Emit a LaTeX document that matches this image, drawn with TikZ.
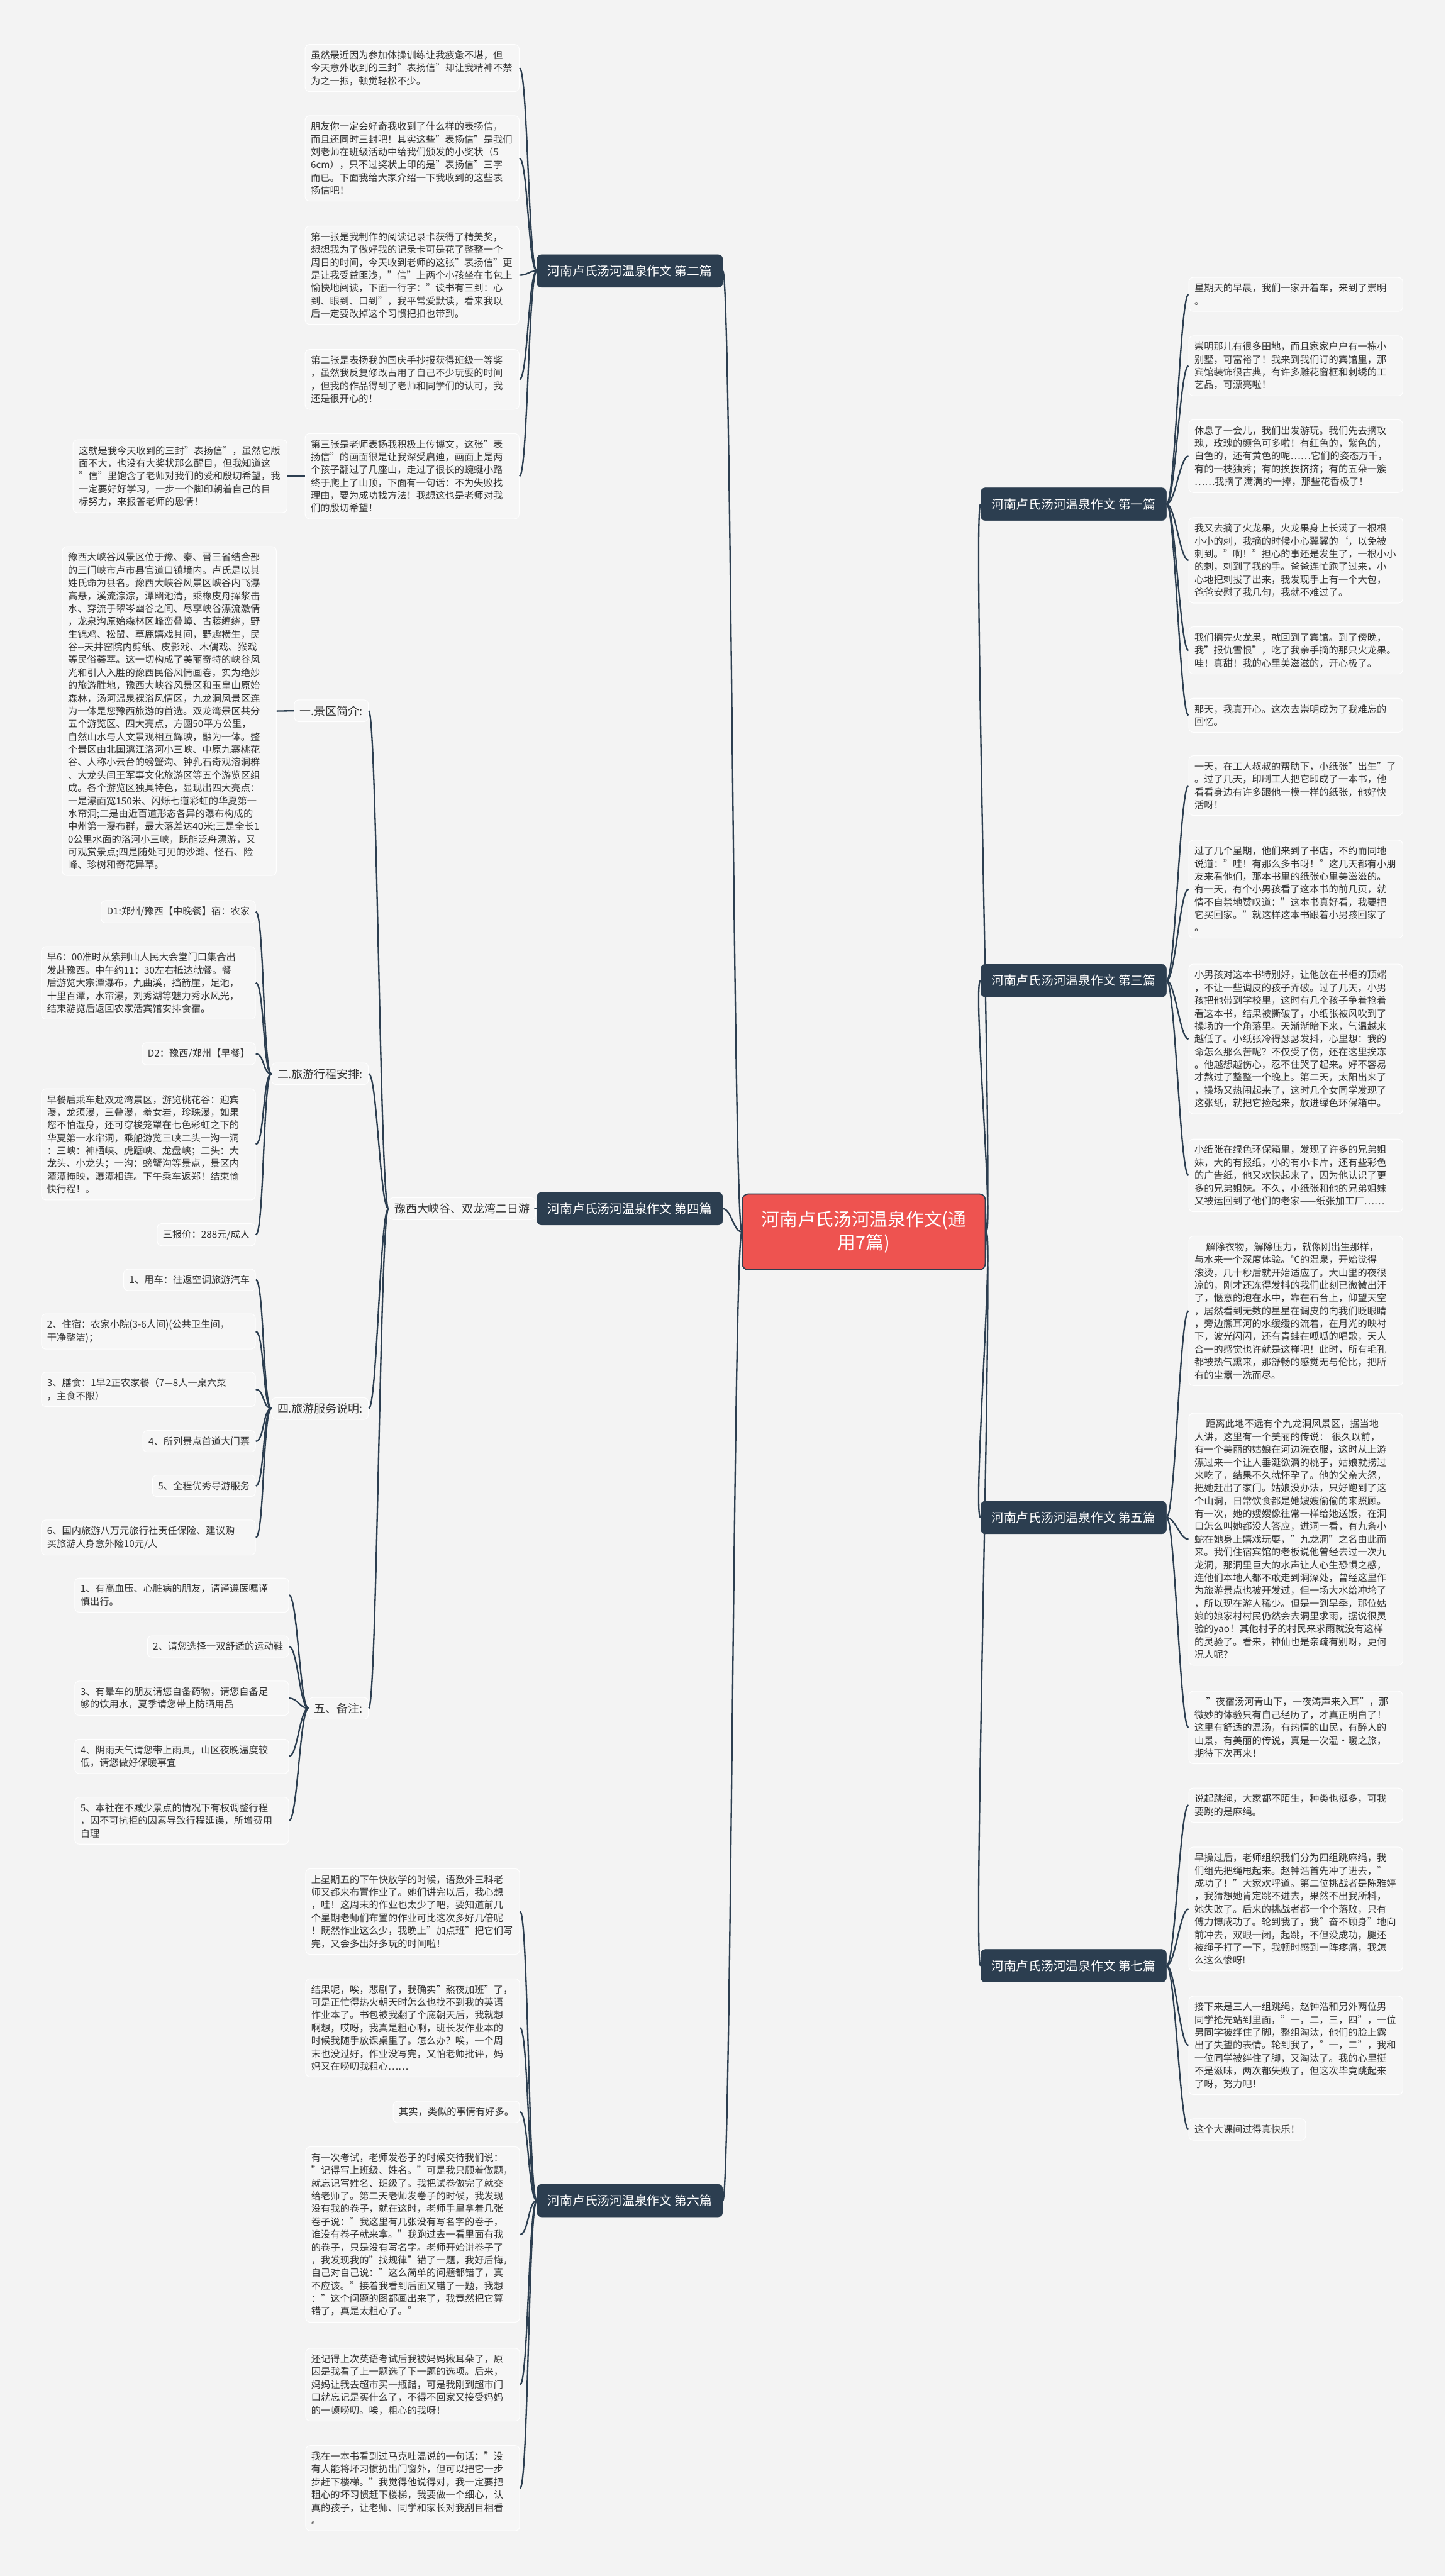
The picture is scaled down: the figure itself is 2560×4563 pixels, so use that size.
\documentclass[tikz,border=0pt]{standalone}
\usepackage{fontspec}
\setmainfont{Noto Sans CJK SC}
\definecolor{bgcol}{HTML}{F3F3F3}
\definecolor{leaffill}{HTML}{F6F6F6}
\definecolor{navy}{HTML}{2C3E50}
\definecolor{rootred}{HTML}{EE5350}
\definecolor{textcol}{HTML}{333333}
\newcommand\rconn[2]{\draw[link] (#1.east) .. controls +(15,0) and +(-15,0) .. (#2.west);}
\newcommand\lconn[2]{\draw[link] (#1.west) .. controls +(-15,0) and +(15,0) .. (#2.east);}
\tikzset{
  leaf/.style={draw=white, line width=1.2pt, fill=leaffill, rounded corners=8pt, inner xsep=10pt, inner ysep=11pt, font=\fontsize{17}{22.7}\selectfont, text=textcol, align=left},
  wleaf/.style={leaf, text width=359pt},
  midnode/.style={leaf, font=\fontsize{20}{24}\selectfont, inner ysep=10pt},
  branch/.style={fill=navy, draw=navy, rounded corners=8pt, text=white, font=\fontsize{22}{26}\selectfont, minimum width=329pt, minimum height=58pt, inner sep=0pt},
  root/.style={fill=rootred, draw=navy, line width=2pt, rounded corners=10pt, text=white, font=\fontsize{32}{42}\selectfont, align=center, minimum width=430pt, minimum height=134pt, inner sep=0pt},
  link/.style={draw=navy, line width=2.6pt}
}
\begin{document}
\begin{tikzpicture}[x=1pt,y=-1pt]
\fill[bgcol] (0,0) rectangle (2560,4563);
\useasboundingbox (0,0) rectangle (2560,4563);

% root and branches
\node[root] (c) at (1530,2182) {河南卢氏汤河温泉作文(通\\用7篇)};
\node[branch] (b1) at (1901.5,893) {河南卢氏汤河温泉作文 第一篇};
\node[branch] (b2) at (1115.5,480) {河南卢氏汤河温泉作文 第二篇};
\node[branch] (b3) at (1901.5,1737) {河南卢氏汤河温泉作文 第三篇};
\node[branch] (b4) at (1115.5,2141) {河南卢氏汤河温泉作文 第四篇};
\node[branch] (b5) at (1901.5,2688) {河南卢氏汤河温泉作文 第五篇};
\node[branch] (b6) at (1115.5,3898) {河南卢氏汤河温泉作文 第六篇};
\node[branch] (b7) at (1901.5,3482) {河南卢氏汤河温泉作文 第七篇};

% ---- section 1
\node[wleaf, anchor=west] (r11) at (2105,521.5) {星期天的早晨，我们一家开着车，来到了崇明\\。};
\node[wleaf, anchor=west] (r12) at (2105,648) {崇明那儿有很多田地，而且家家户户有一栋小\\别墅，可富裕了！我来到我们订的宾馆里，那\\宾馆装饰很古典，有许多雕花窗框和刺绣的工\\艺品，可漂亮啦！};
\node[wleaf, anchor=west] (r13) at (2105,808) {休息了一会儿，我们出发游玩。我们先去摘玫\\瑰，玫瑰的颜色可多啦！有红色的，紫色的，\\白色的，还有黄色的呢……它们的姿态万千，\\有的一枝独秀；有的挨挨挤挤；有的五朵一簇\\……我摘了满满的一捧，那些花香极了！};
\node[wleaf, anchor=west] (r14) at (2105,992.5) {我又去摘了火龙果，火龙果身上长满了一根根\\小小的刺，我摘的时候小心翼翼的`，以免被\\刺到。"啊！"担心的事还是发生了，一根小小\\的刺，刺到了我的手。爸爸连忙跑了过来，小\\心地把刺拔了出来，我发现手上有一个大包，\\爸爸安慰了我几句，我就不难过了。};
\node[wleaf, anchor=west] (r15) at (2105,1152) {我们摘完火龙果，就回到了宾馆。到了傍晚，\\我"报仇雪恨"，吃了我亲手摘的那只火龙果。\\哇！真甜！我的心里美滋滋的，开心极了。};
\node[wleaf, anchor=west] (r16) at (2105,1267) {那天，我真开心。这次去崇明成为了我难忘的\\回忆。};

% ---- section 3
\node[wleaf, anchor=west] (r31) at (2105,1391.5) {一天，在工人叔叔的帮助下，小纸张"出生"了\\。过了几天，印刷工人把它印成了一本书，他\\看看身边有许多跟他一模一样的纸张，他好快\\活呀！};
\node[wleaf, anchor=west] (r32) at (2105,1575) {过了几个星期，他们来到了书店，不约而同地\\说道："哇！有那么多书呀！"这几天都有小朋\\友来看他们，那本书里的纸张心里美滋滋的。\\有一天，有个小男孩看了这本书的前几页，就\\情不自禁地赞叹道："这本书真好看，我要把\\它买回家。"就这样这本书跟着小男孩回家了\\。};
\node[wleaf, anchor=west] (r33) at (2105,1840.5) {小男孩对这本书特别好，让他放在书柜的顶端\\，不让一些调皮的孩子弄破。过了几天，小男\\孩把他带到学校里，这时有几个孩子争着抢着\\看这本书，结果被撕破了，小纸张被风吹到了\\操场的一个角落里。天渐渐暗下来，气温越来\\越低了。小纸张冷得瑟瑟发抖，心里想：我的\\命怎么那么苦呢？不仅受了伤，还在这里挨冻\\。他越想越伤心，忍不住哭了起来。好不容易\\才熬过了整整一个晚上。第二天，太阳出来了\\，操场又热闹起来了，这时几个女同学发现了\\这张纸，就把它捡起来，放进绿色环保箱中。};
\node[wleaf, anchor=west] (r34) at (2105,2082) {小纸张在绿色环保箱里，发现了许多的兄弟姐\\妹，大的有报纸，小的有小卡片，还有些彩色\\的广告纸，他又欢快起来了，因为他认识了更\\多的兄弟姐妹。不久，小纸张和他的兄弟姐妹\\又被运回到了他们的老家——纸张加工厂……};

% ---- section 5
\node[wleaf, anchor=west] (r51) at (2105,2322) {\hspace*{1.2em}解除衣物，解除压力，就像刚出生那样，\\与水来一个深度体验。°C的温泉，开始觉得\\滚烫，几十秒后就开始适应了。大山里的夜很\\凉的，刚才还冻得发抖的我们此刻已微微出汗\\了，惬意的泡在水中，靠在石台上，仰望天空\\，居然看到无数的星星在调皮的向我们眨眼睛\\，旁边熊耳河的水缓缓的流着，在月光的映衬\\下，波光闪闪，还有青蛙在呱呱的唱歌，天人\\合一的感觉也许就是这样吧！此时，所有毛孔\\都被热气熏来，那舒畅的感觉无与伦比，把所\\有的尘嚣一洗而尽。};
\node[wleaf, anchor=west] (r52) at (2105,2726.5) {\hspace*{1.2em}距离此地不远有个九龙洞风景区，据当地\\人讲，这里有一个美丽的传说： 很久以前，\\有一个美丽的姑娘在河边洗衣服，这时从上游\\漂过来一个让人垂涎欲滴的桃子，姑娘就捞过\\来吃了，结果不久就怀孕了。他的父亲大怒，\\把她赶出了家门。姑娘没办法，只好跑到了这\\个山洞，日常饮食都是她嫂嫂偷偷的来照顾。\\有一次，她的嫂嫂像往常一样给她送饭，在洞\\口怎么叫她都没人答应，进洞一看，有九条小\\蛇在她身上嬉戏玩耍，"九龙洞"之名由此而\\来。我们住宿宾馆的老板说他曾经去过一次九\\龙洞，那洞里巨大的水声让人心生恐惧之感，\\连他们本地人都不敢走到洞深处，曾经这里作\\为旅游景点也被开发过，但一场大水给冲垮了\\，所以现在游人稀少。但是一到旱季，那位姑\\娘的娘家村村民仍然会去洞里求雨，据说很灵\\验的yao！其他村子的村民来求雨就没有这样\\的灵验了。看来，神仙也是亲疏有别呀，更何\\况人呢？};
\node[wleaf, anchor=west] (r53) at (2105,3060) {\hspace*{1.2em}"夜宿汤河青山下，一夜涛声来入耳"，那\\微妙的体验只有自己经历了，才真正明白了！\\这里有舒适的温汤，有热情的山民，有醉人的\\山景，有美丽的传说，真是一次温•暖之旅，\\期待下次再来！};

% ---- section 7
\node[wleaf, anchor=west] (r71) at (2105,3197.5) {说起跳绳，大家都不陌生，种类也挺多，可我\\要跳的是麻绳。};
\node[wleaf, anchor=west] (r72) at (2105,3381.5) {早操过后，老师组织我们分为四组跳麻绳，我\\们组先把绳甩起来。赵钟浩首先冲了进去，"\\成功了！"大家欢呼道。第二位挑战者是陈雅婷\\，我猜想她肯定跳不进去，果然不出我所料，\\她失败了。后来的挑战者都一个个落败，只有\\傅力博成功了。轮到我了，我"奋不顾身"地向\\前冲去，双眼一闭，起跳，不但没成功，腿还\\被绳子打了一下，我顿时感到一阵疼痛，我怎\\么这么惨呀!};
\node[wleaf, anchor=west] (r73) at (2105,3623) {接下来是三人一组跳绳，赵钟浩和另外两位男\\同学抢先站到里面，"一，二，三，四"，一位\\男同学被绊住了脚，整组淘汰，他们的脸上露\\出了失望的表情。轮到我了，"一，二"，我和\\一位同学被绊住了脚，又淘汰了。我的心里挺\\不是滋味，两次都失败了，但这次毕竟跳起来\\了呀，努力吧！};
\node[leaf, anchor=west] (r74) at (2105,3772) {这个大课间过得真快乐！};

% ---- section 2
\node[wleaf, anchor=east] (l21) at (920,120.5) {虽然最近因为参加体操训练让我疲惫不堪，但\\今天意外收到的三封"表扬信"却让我精神不禁\\为之一振，顿觉轻松不少。};
\node[wleaf, anchor=east] (l22) at (920,280.5) {朋友你一定会好奇我收到了什么样的表扬信，\\而且还同时三封吧！其实这些"表扬信"是我们\\刘老师在班级活动中给我们颁发的小奖状（5\\*6cm），只不过奖状上印的是"表扬信"三字\\而已。下面我给大家介绍一下我收到的这些表\\扬信吧！};
\node[wleaf, anchor=east] (l23) at (920,487.5) {第一张是我制作的阅读记录卡获得了精美奖，\\想想我为了做好我的记录卡可是花了整整一个\\周日的时间，今天收到老师的这张"表扬信"更\\是让我受益匪浅，"信"上两个小孩坐在书包上\\愉快地阅读，下面一行字："读书有三到：心\\到、眼到、口到"，我平常爱默读，看来我以\\后一定要改掉这个习惯把扣也带到。};
\node[wleaf, anchor=east] (l24) at (920,672) {第二张是表扬我的国庆手抄报获得班级一等奖\\，虽然我反复修改占用了自己不少玩耍的时间\\，但我的作品得到了老师和同学们的认可，我\\还是很开心的！};
\node[wleaf, anchor=east] (l25) at (920,843.5) {第三张是老师表扬我积极上传博文，这张"表\\扬信"的画面很是让我深受启迪，画面上是两\\个孩子翻过了几座山，走过了很长的蜿蜒小路\\终于爬上了山顶，下面有一句话：不为失败找\\理由，要为成功找方法！我想这也是老师对我\\们的殷切希望！};
\node[wleaf, anchor=east] (l26) at (509,843.5) {这就是我今天收到的三封"表扬信"，虽然它版\\面不大，也没有大奖状那么醒目，但我知道这\\"信"里饱含了老师对我们的爱和殷切希望，我\\一定要好好学习，一步一个脚印朝着自己的目\\标努力，来报答老师的恩情！};

% ---- section 4
\node[midnode, anchor=west] (s4) at (688,2141) {豫西大峡谷、双龙湾二日游};
\node[midnode, anchor=east] (s41) at (653,1259) {一.景区简介:};
\node[midnode, anchor=east] (s42) at (653,1902) {二.旅游行程安排:};
\node[midnode, anchor=east] (s44) at (653,2495) {四.旅游服务说明:};
\node[midnode, anchor=east] (s45) at (653,3026) {五、备注:};

\node[wleaf, anchor=east] (t1) at (490,1259.5) {豫西大峡谷风景区位于豫、秦、晋三省结合部\\的三门峡市卢市县官道口镇境内。卢氏是以其\\姓氏命为县名。豫西大峡谷风景区峡谷内飞瀑\\高悬，溪流淙淙，潭幽池清，乘橡皮舟挥浆击\\水、穿流于翠岑幽谷之间、尽享峡谷漂流激情\\，龙泉沟原始森林区峰峦叠嶂、古藤缠绕，野\\生锦鸡、松鼠、草鹿嬉戏其间，野趣横生，民\\谷-{}-天井窑院内剪纸、皮影戏、木偶戏、猴戏\\等民俗荟萃。这一切构成了美丽奇特的峡谷风\\光和引人入胜的豫西民俗风情画卷，实为绝妙\\的旅游胜地，豫西大峡谷风景区和玉皇山原始\\森林，汤河温泉裸浴风情区，九龙洞风景区连\\为一体是您豫西旅游的首选。双龙湾景区共分\\五个游览区、四大亮点，方圆50平方公里，\\自然山水与人文景观相互辉映，融为一体。整\\个景区由北国漓江洛河小三峡、中原九寨桃花\\谷、人称小云台的螃蟹沟、钟乳石奇观溶洞群\\、大龙头闫王军事文化旅游区等五个游览区组\\成。各个游览区独具特色，显现出四大亮点：\\一是瀑面宽150米、闪烁七道彩虹的华夏第一\\水帘洞;二是由近百道形态各异的瀑布构成的\\中州第一瀑布群，最大落差达40米;三是全长1\\0公里水面的洛河小三峡，既能泛舟漂游，又\\可观赏景点;四是随处可见的沙滩、怪石、险\\峰、珍树和奇花异草。};

\node[leaf, anchor=east] (t21) at (453,1615) {D1:郑州/豫西【中晚餐】宿：农家};
\node[wleaf, anchor=east] (t22) at (453,1741) {早6：00准时从紫荆山人民大会堂门口集合出\\发赴豫西。中午约11：30左右抵达就餐。餐\\后游览大宗潭瀑布，九曲溪，挡箭崖，足池，\\十里百潭，水帘瀑，刘秀湖等魅力秀水风光，\\结束游览后返回农家活宾馆安排食宿。};
\node[leaf, anchor=east] (t23) at (453,1866.5) {D2：豫西/郑州【早餐】};
\node[wleaf, anchor=east] (t24) at (453,2027) {早餐后乘车赴双龙湾景区，游览桃花谷：迎宾\\瀑，龙须瀑，三叠瀑，羞女岩，珍珠瀑，如果\\您不怕湿身，还可穿梭笼罩在七色彩虹之下的\\华夏第一水帘洞，乘船游览三峡二头一沟一洞\\：三峡：神栖峡、虎踞峡、龙盘峡；二头：大\\龙头、小龙头；一沟：螃蟹沟等景点，景区内\\潭潭掩映，瀑潭相连。下午乘车返郑！结束愉\\快行程！。};
\node[leaf, anchor=east] (t25) at (453,2187) {三报价：288元/成人};

\node[leaf, anchor=east] (t41) at (453,2267) {1、用车：往返空调旅游汽车};
\node[wleaf, anchor=east] (t42) at (453,2358.5) {2、住宿：农家小院(3-6人间)(公共卫生间，\\干净整洁)；};
\node[wleaf, anchor=east] (t43) at (453,2461) {3、膳食：1早2正农家餐（7—8人一桌六菜\\，主食不限）};
\node[leaf, anchor=east] (t44) at (453,2553) {4、所列景点首道大门票};
\node[leaf, anchor=east] (t45) at (453,2632) {5、全程优秀导游服务};
\node[wleaf, anchor=east] (t46) at (453,2723.5) {6、国内旅游八万元旅行社责任保险、建议购\\买旅游人身意外险10元/人};

\node[wleaf, anchor=east] (t51) at (512,2825.5) {1、有高血压、心脏病的朋友，请谨遵医嘱谨\\慎出行。};
\node[leaf, anchor=east] (t52) at (512,2916.5) {2、请您选择一双舒适的运动鞋};
\node[wleaf, anchor=east] (t53) at (512,3008) {3、有晕车的朋友请您自备药物，请您自备足\\够的饮用水，夏季请您带上防晒用品};
\node[wleaf, anchor=east] (t54) at (512,3111) {4、阴雨天气请您带上雨具，山区夜晚温度较\\低，请您做好保暖事宜};
\node[wleaf, anchor=east] (t55) at (512,3225) {5、本社在不减少景点的情况下有权调整行程\\，因不可抗拒的因素导致行程延误，所增费用\\自理};

% ---- section 6
\node[wleaf, anchor=east] (l61) at (921,3386) {上星期五的下午快放学的时候，语数外三科老\\师又都来布置作业了。她们讲完以后，我心想\\，哇！这周末的作业也太少了吧，要知道前几\\个星期老师们布置的作业可比这次多好几倍呢\\！既然作业这么少，我晚上"加点班"把它们写\\完，又会多出好多玩的时间啦！};
\node[wleaf, anchor=east] (l62) at (921,3592) {结果呢，唉，悲剧了，我确实"熬夜加班"了，\\可是正忙得热火朝天时怎么也找不到我的英语\\作业本了。书包被我翻了个底朝天后，我就想\\啊想，哎呀，我真是粗心啊，班长发作业本的\\时候我随手放课桌里了。怎么办？唉，一个周\\末也没过好，作业没写完，又怕老师批评，妈\\妈又在唠叨我粗心……};
\node[leaf, anchor=east] (l63) at (921,3741) {其实，类似的事情有好多。};
\node[wleaf, anchor=east] (l64) at (921,3958) {有一次考试，老师发卷子的时候交待我们说：\\"记得写上班级、姓名。"可是我只顾着做题，\\就忘记写姓名、班级了。我把试卷做完了就交\\给老师了。第二天老师发卷子的时候，我发现\\没有我的卷子，就在这时，老师手里拿着几张\\卷子说："我这里有几张没有写名字的卷子，\\谁没有卷子就来拿。"我跑过去一看里面有我\\的卷子，只是没有写名字。老师开始讲卷子了\\，我发现我的"找规律"错了一题，我好后悔，\\自己对自己说："这么简单的问题都错了，真\\不应该。"接着我看到后面又错了一题，我想\\："这个问题的图都画出来了，我竟然把它算\\错了，真是太粗心了。"};
\node[wleaf, anchor=east] (l65) at (921,4224) {还记得上次英语考试后我被妈妈揪耳朵了，原\\因是我看了上一题选了下一题的选项。后来，\\妈妈让我去超市买一瓶醋，可是我刚到超市门\\口就忘记是买什么了，不得不回家又接受妈妈\\的一顿唠叨。唉，粗心的我呀！};
\node[wleaf, anchor=east] (l66) at (921,4407.5) {我在一本书看到过马克吐温说的一句话："没\\有人能将坏习惯扔出门窗外，但可以把它一步\\步赶下楼梯。"我觉得他说得对，我一定要把\\粗心的坏习惯赶下楼梯，我要做一个细心，认\\真的孩子，让老师、同学和家长对我刮目相看\\。};

% ---- connectors
\lconn{c}{b2} \lconn{c}{b4} \lconn{c}{b6}
\rconn{c}{b1} \rconn{c}{b3} \rconn{c}{b5} \rconn{c}{b7}
\rconn{b1}{r11} \rconn{b1}{r12} \rconn{b1}{r13} \rconn{b1}{r14} \rconn{b1}{r15} \rconn{b1}{r16}
\rconn{b3}{r31} \rconn{b3}{r32} \rconn{b3}{r33} \rconn{b3}{r34}
\rconn{b5}{r51} \rconn{b5}{r52} \rconn{b5}{r53}
\rconn{b7}{r71} \rconn{b7}{r72} \rconn{b7}{r73} \rconn{b7}{r74}
\lconn{b2}{l21} \lconn{b2}{l22} \lconn{b2}{l23} \lconn{b2}{l24} \lconn{b2}{l25}
\lconn{l25}{l26}
\lconn{b4}{s4}
\lconn{s4}{s41} \lconn{s4}{s42} \lconn{s4}{s44} \lconn{s4}{s45}
\lconn{s41}{t1}
\lconn{s42}{t21} \lconn{s42}{t22} \lconn{s42}{t23} \lconn{s42}{t24} \lconn{s42}{t25}
\lconn{s44}{t41} \lconn{s44}{t42} \lconn{s44}{t43} \lconn{s44}{t44} \lconn{s44}{t45} \lconn{s44}{t46}
\lconn{s45}{t51} \lconn{s45}{t52} \lconn{s45}{t53} \lconn{s45}{t54} \lconn{s45}{t55}
\lconn{b6}{l61} \lconn{b6}{l62} \lconn{b6}{l63} \lconn{b6}{l64} \lconn{b6}{l65} \lconn{b6}{l66}
\end{tikzpicture}
\end{document}
